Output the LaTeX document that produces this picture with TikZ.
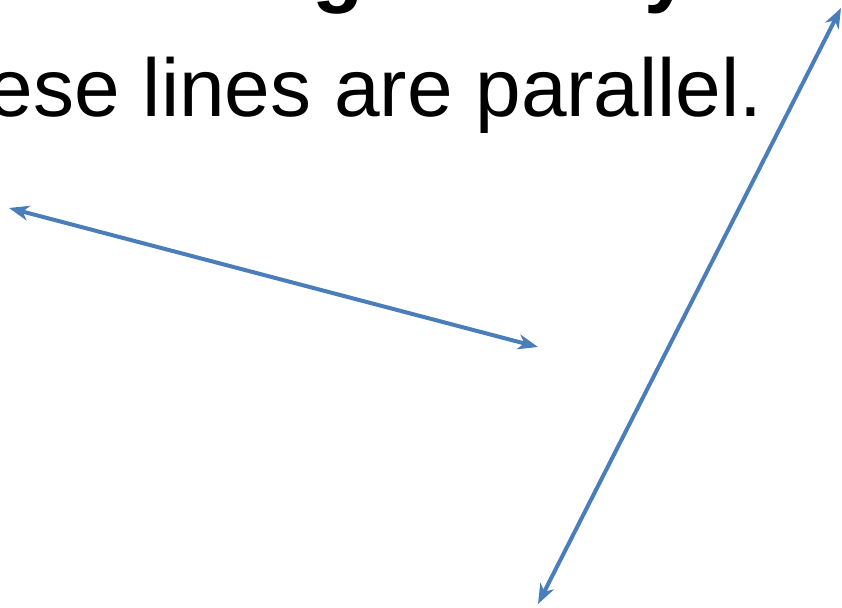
\documentclass[tikz,border=0pt]{standalone}
\usepackage{fontspec}
\setmainfont{Liberation Sans}
\usetikzlibrary{arrows.meta}
\definecolor{lineblue}{RGB}{74,126,187}

\begin{document}
\begin{tikzpicture}[
    x=1pt, y=-1pt,
    heading/.style={inner sep=0pt, font=\fontsize{84}{100}\selectfont\bfseries},
    statement/.style={inner sep=0pt, font=\fontsize{82}{98}\selectfont},
    dblarrow/.style={{Stealth[length=20pt,width=15pt,inset=6pt]}-{Stealth[length=20pt,width=15pt,inset=6pt]},
        line width=4pt, lineblue}
]
\useasboundingbox (0,0) rectangle (842,607);
\clip (0,0) rectangle (842,607);

% what is left of the title
\node[heading, anchor=base west] (tg) at (312,-3) {g};
\node[heading, anchor=base west] (ty) at (644,-3) {y};

\node[statement, anchor=base east] (txt) at (763,117) {These lines are parallel.};

% end points
\coordinate (la) at (9,208);
\coordinate (lb) at (538,347);
\coordinate (ma) at (841,8);
\coordinate (mb) at (538,604);

\draw[dblarrow] (la) -- (lb);
\draw[dblarrow] (ma) -- (mb);

\end{tikzpicture}
\end{document}
